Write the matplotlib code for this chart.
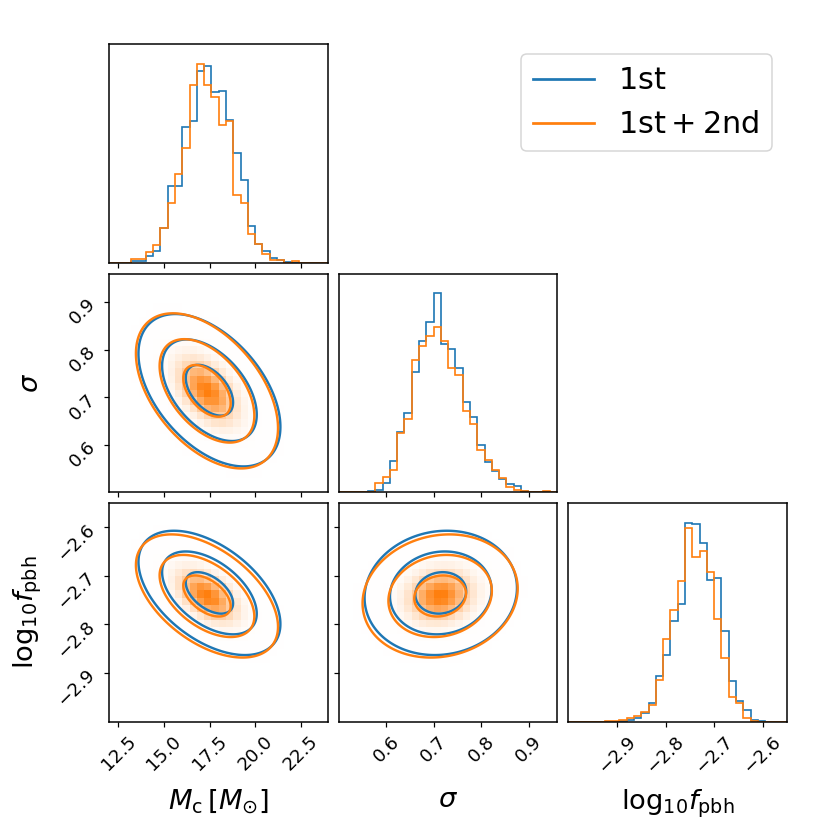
import numpy as np
import matplotlib.pyplot as plt
from matplotlib.colors import LinearSegmentedColormap
from matplotlib.lines import Line2D

# parameter labels, plot ranges and ticks
labels = [r"$M_{\rm c}\,[M_{\odot}]$", r"$\sigma$", r"$\mathrm{log}_{10}f_{\rm pbh}$"]
ranges = [(12.0, 24.0), (0.5, 0.96), (-3.0, -2.55)]
ticks = [[12.5, 15.0, 17.5, 20.0, 22.5], [0.6, 0.7, 0.8, 0.9], [-2.9, -2.8, -2.7, -2.6]]
n_bins = 30

series_names = [r"$\mathrm{1st}$", r"$\mathrm{1st + 2nd}$"]
colors = ["#1f77b4", "#ff7f0e"]

# 1D marginal histograms (relative counts, 30 bins over the plot range)
mc_1st = [0, 0, 0, 0.7, 0.7, 3.4, 5.7, 17.5, 38.6, 38.4, 68.2, 71.2, 96.8, 98.9, 86.2,
          86.7, 72.0, 55.5, 41.7, 18.7, 9.6, 5.7, 2.4, 1.2, 0.2, 0, 0, 0, 0, 0]
mc_2nd = [0, 0, 0, 1.7, 1.7, 5.4, 9.1, 17.5, 30.2, 44.5, 58.0, 89.6, 100.2, 89.6, 83.3,
          69.5, 71.2, 34.1, 30.2, 14.2, 9.6, 4.4, 1.5, 1.5, 0, 0.7, 0, 0, 0, 0]
sig_1st = [0, 0, 0, 0, 0.8, 1.3, 4.7, 15.7, 30.2, 39.6, 60.6, 76.0, 85.4, 99.9, 74.3,
           71.8, 62.3, 45.1, 37.6, 23.8, 15.2, 10.6, 6.4, 3.9, 3.0, 0.5, 0.3, 0, 0, 0]
sig_2nd = [0, 0, 0, 0, 0.2, 4.4, 7.6, 11.3, 29.5, 36.7, 66.5, 73.4, 78.3, 83.0, 76.0,
           62.3, 59.1, 40.9, 34.5, 21.4, 16.0, 11.3, 7.2, 2.5, 1.2, 0.5, 0.3, 0, 0.5, 0]
f_1st = [0, 0, 0, 0, 0, 0, 0, 0.3, 0.8, 2.0, 4.2, 9.3, 23.2, 33.5, 50.8,
         59.2, 100.4, 100.0, 90.5, 71.6, 72.8, 45.7, 20.6, 10.2, 5.9, 1.0, 0.3, 0, 0, 0]
f_2nd = [0, 0, 0, 0, 0, 0.5, 0.3, 1.0, 1.7, 3.0, 4.7, 8.5, 20.8, 41.8, 56.2,
         71.1, 97.6, 83.3, 86.3, 75.6, 52.1, 32.2, 12.2, 9.3, 2.0, 0.3, 0, 0, 0, 0]

hists = [[mc_1st, sig_1st, f_1st], [mc_2nd, sig_2nd, f_2nd]]

# correlation coefficients, keyed (row, col)
corr_1st = {(1, 0): -0.48, (2, 0): -0.50, (2, 1): 0.08}
corr_2nd = {(1, 0): -0.48, (2, 0): -0.50, (2, 1): 0.12}
corrs = [corr_1st, corr_2nd]


def edges_of(k):
    return np.linspace(ranges[k][0], ranges[k][1], n_bins + 1)


def moments(h, k):
    e = edges_of(k)
    c = 0.5 * (e[1:] + e[:-1])
    w = np.asarray(h, float)
    m = np.sum(w * c) / np.sum(w)
    s = np.sqrt(np.sum(w * (c - m) ** 2) / np.sum(w))
    return m, s


def gauss2d(X, Y, mx, sx, my, sy, rho):
    u = (X - mx) / sx
    v = (Y - my) / sy
    q = (u * u - 2 * rho * u * v + v * v) / (1 - rho ** 2)
    return np.exp(-0.5 * q)


stats = [[moments(hists[s][k], k) for k in range(3)] for s in range(2)]
levels = np.exp(-0.5 * np.array([3.0, 2.0, 1.0]) ** 2)

fig, axes = plt.subplots(3, 3, figsize=(7.6, 7.6), dpi=831 / 7.6)
fig.subplots_adjust(left=0.1316, right=0.947, bottom=0.1316, top=0.947,
                    wspace=0.05, hspace=0.05)

density_cmap = LinearSegmentedColormap.from_list("dens", [(1, 1, 1, 0), colors[1]])

for i in range(3):
    for j in range(3):
        ax = axes[i, j]
        if j > i:
            ax.set_axis_off()
            continue
        ax.tick_params(direction="out", length=3.5, width=0.8, labelsize=12)
        for sp in ax.spines.values():
            sp.set_linewidth(1.0)
        if i == j:
            e = edges_of(i)
            c = 0.5 * (e[1:] + e[:-1])
            top = 0
            for s in range(2):
                ax.hist(c, bins=e, weights=hists[s][i], histtype="step",
                        color=colors[s], lw=1.1)
                top = max(top, max(hists[s][i]))
            ax.set_ylim(0, 1.1 * top)
            ax.set_yticks([])
        else:
            ex, ey = edges_of(j), edges_of(i)
            # density image of the second series on the histogram grid
            cx = 0.5 * (ex[1:] + ex[:-1])
            cy = 0.5 * (ey[1:] + ey[:-1])
            CX, CY = np.meshgrid(cx, cy)
            (mx, sx), (my, sy) = stats[1][j], stats[1][i]
            H = gauss2d(CX, CY, mx, sx, my, sy, corrs[1][(i, j)])
            ax.pcolormesh(ex, ey, H, cmap=density_cmap, vmin=0, vmax=H.max())
            fx = np.linspace(ranges[j][0], ranges[j][1], 300)
            fy = np.linspace(ranges[i][0], ranges[i][1], 300)
            FX, FY = np.meshgrid(fx, fy)
            for s in range(2):
                (mx, sx), (my, sy) = stats[s][j], stats[s][i]
                Z = gauss2d(FX, FY, mx, sx, my, sy, corrs[s][(i, j)])
                ax.contour(FX, FY, Z, levels=levels, colors=colors[s],
                           linewidths=1.6)
            ax.set_ylim(ranges[i])
            ax.set_yticks(ticks[i])
            if j == 0:
                ax.set_ylabel(labels[i], fontsize=18)
                ax.yaxis.set_label_coords(-0.3, 0.5)
                for lab in ax.get_yticklabels():
                    lab.set_rotation(45)
            else:
                ax.set_yticklabels([])
        ax.set_xlim(ranges[j])
        ax.set_xticks(ticks[j])
        if i == 2:
            ax.set_xlabel(labels[j], fontsize=18)
            ax.xaxis.set_label_coords(0.5, -0.3)
            for lab in ax.get_xticklabels():
                lab.set_rotation(45)
        else:
            ax.set_xticklabels([])

handles = [Line2D([], [], color=c, lw=1.8) for c in colors]
fig.legend(handles, series_names, loc="upper right", fontsize=20,
           bbox_to_anchor=(772 / 831, 1 - 54 / 831), borderaxespad=0)

fig.savefig("out.png", dpi=831 / 7.6)
